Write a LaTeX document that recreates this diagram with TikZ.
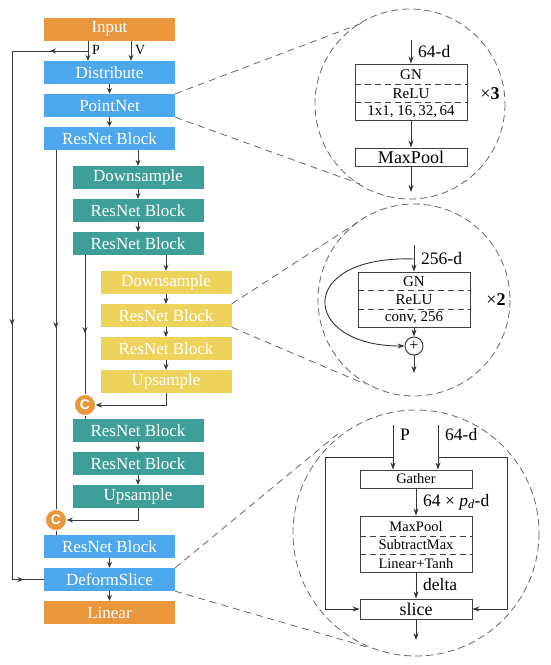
\documentclass[tikz,border=0pt]{standalone}
\usepackage{fontspec}
\setmainfont{Liberation Serif}
\setsansfont{Liberation Sans}
\usetikzlibrary{arrows.meta,decorations.markings}
\definecolor{corange}{HTML}{E9963C}
\definecolor{cblue}{HTML}{4DA7EC}
\definecolor{cteal}{HTML}{3E9E98}
\definecolor{cyellow}{HTML}{EDD35C}
\definecolor{cline}{HTML}{3A3A3A}
\definecolor{cdash}{HTML}{666666}
\tikzset{
  Stl/.tip={Stealth[length=6pt,width=5pt]},
  blk/.style={minimum width=131pt, minimum height=23pt, inner sep=0pt, text=white, font=\fontsize{17}{17}\selectfont},
  orangeb/.style={blk, fill=corange},
  blueb/.style={blk, fill=cblue},
  tealb/.style={blk, fill=cteal},
  yellowb/.style={blk, fill=cyellow},
  cnode/.style={circle, fill=corange, draw=white, line width=0.8pt, minimum size=21pt, inner sep=0pt, text=white, font=\sffamily\bfseries\fontsize{14}{14}\selectfont},
  link/.style={draw=cline, line width=0.8pt},
  arr/.style={link, -{Stl}},
  midarr/.style={link, postaction={decorate}, decoration={markings, mark=at position #1 with {\arrow{Stl}}}},
  zoomc/.style={draw=cdash, line width=0.8pt, dash pattern=on 7pt off 4pt},
  zoomline/.style={draw=cdash, line width=0.8pt, dash pattern=on 7pt off 5pt},
  dbox/.style={draw=black!75, line width=0.9pt, inner sep=0pt, minimum width=112pt},
  rowtxt/.style={inner sep=0pt, font=\fontsize{15}{15}\selectfont},
  bigtxt/.style={inner sep=0pt, font=\fontsize{18}{18}\selectfont},
  lbl/.style={inner sep=0pt, anchor=west, font=\fontsize{17.5}{17.5}\selectfont},
  darr/.style={draw=black!80, line width=0.9pt, -{Stealth[length=7pt,width=5pt]}},
  dline/.style={draw=black!80, line width=0.9pt},
  sepline/.style={draw=black!75, line width=0.8pt, dash pattern=on 6pt off 4pt}
}
\begin{document}
\begin{tikzpicture}[x=1pt,y=-1pt]
\useasboundingbox (0,0) rectangle (550,665);

% ---------- zoom circles ----------
\draw[zoomc] (410,104) circle (95);
\draw[zoomc] (414,300) circle (96);
\draw[zoomc] (416,533) circle (123);

% ---------- left column ----------
\node[orangeb] (Input) at (109.5,29) {Input};
\node[blueb] (Dist) at (109.5,72.5) {Distribute};
\node[blueb] (PN) at (109.5,105.5) {PointNet};
\node[blueb] (RB1) at (109.5,138.5) {ResNet Block};
\node[tealb] (D1) at (138,177.5) {Downsample};
\node[tealb] (R2) at (138,210.5) {ResNet Block};
\node[tealb] (R3) at (138,243.5) {ResNet Block};
\node[yellowb] (D2) at (166,282.5) {Downsample};
\node[yellowb] (R4) at (166,315.5) {ResNet Block};
\node[yellowb] (R5) at (166,348.5) {ResNet Block};
\node[yellowb] (U1) at (166,381.5) {Upsample};
\node[cnode] (C1) at (85,405) {C};
\node[tealb] (R6) at (138,430.5) {ResNet Block};
\node[tealb] (R7) at (138,463.5) {ResNet Block};
\node[tealb] (U2) at (138,496.5) {Upsample};
\node[cnode] (C2) at (56,520) {C};
\node[blueb] (R8) at (109.5,546.5) {ResNet Block};
\node[blueb] (DS) at (109.5,579.5) {DeformSlice};
\node[orangeb] (Lin) at (109.5,612.5) {Linear};

\draw[zoomline] (PN.north east) -- (365,22);
\draw[zoomline] (PN.south east) -- (360,184);
\draw[zoomline] (R4.north east) -- (358,222);
\draw[zoomline] (R4.south east) -- (365,384);
\draw[zoomline] (DS.north east) -- (340,432);
\draw[zoomline] (DS.south east) -- (367,647);

% P and V
\draw[arr] (88,0 |- Input.south) -- (88,0 |- Dist.north);
\draw[arr] (131,0 |- Input.south) -- (131,0 |- Dist.north);
\node[inner sep=0pt, anchor=west, font=\fontsize{14}{14}\selectfont] (Plbl) at (92,50) {P};
\node[inner sep=0pt, anchor=west, font=\fontsize{14}{14}\selectfont] (Vlbl) at (135,50) {V};

% outer loop P -> DeformSlice
\coordinate (ps) at (88,51);
\coordinate (pl) at (12,51);
\draw[link, postaction={decorate}, decoration={markings,
   mark=at position 38pt with {\arrow{Stl}},
   mark=at position 350pt with {\arrow{Stl}},
   mark=at position 616pt with {\arrow{Stl}}}]
   (ps) -- (pl) -- (12,0 |- DS.west) -- (DS.west);

% chain arrows
\draw[arr] (Dist) -- (PN);
\draw[arr] (PN) -- (RB1);
\draw[arr] (138,0 |- RB1.south) -- (D1.north);
\draw[arr] (D1) -- (R2);
\draw[arr] (R2) -- (R3);
\draw[arr] (166,0 |- R3.south) -- (D2.north);
\draw[arr] (D2) -- (R4);
\draw[arr] (R4) -- (R5);
\draw[arr] (R5) -- (U1);
\draw[arr] (R6) -- (R7);
\draw[arr] (R7) -- (U2);
\draw[arr] (R8) -- (DS);
\draw[arr] (DS) -- (Lin);

% skip connections
\draw[midarr=178pt] (56,0 |- RB1.south) -- (C2.north);
\draw[midarr=78pt] (85,0 |- R3.south) -- (C1.north);
\draw[arr] (U1.south) -- (166,405) -- (C1.east);
\draw[arr] (U2.south) -- (138,520) -- (C2.east);
\draw[link] (C1.south) -- (85,0 |- R6.north);
\draw[link] (C2.south) -- (56,0 |- R8.north);

% ---------- circle 1 : PointNet ----------
\node[dbox, minimum height=56pt] (pnb) at (411,92) {};
\draw[sepline] (pnb.west |- 0,84) -- (pnb.east |- 0,84);
\draw[sepline] (pnb.west |- 0,102) -- (pnb.east |- 0,102);
\node[rowtxt] (gn1) at (411,74.5) {GN};
\node[rowtxt] (re1) at (411,93.5) {ReLU};
\node[rowtxt] (cv1) at (411,111.5) {1x1, 16,\,32,\,64};
\coordinate (in1) at (411,40);
\draw[darr] (in1) -- (pnb.north);
\node[lbl] (d64a) at (418,52) {64-d};
\node[inner sep=0pt, font=\fontsize{18}{18}\selectfont] (x3) at (490,94) {×\textbf{3}};
\node[dbox, minimum height=18pt, font=\fontsize{18}{18}\selectfont] (mp1) at (411,157) {MaxPool};
\draw[darr] (pnb.south) -- (mp1.north);
\coordinate (out1) at (411,192);
\draw[darr] (mp1.south) -- (out1);

% ---------- circle 2 : ResNet block ----------
\node[dbox, minimum height=55pt] (rbb) at (414,299.5) {};
\draw[sepline] (rbb.west |- 0,290.5) -- (rbb.east |- 0,290.5);
\draw[sepline] (rbb.west |- 0,309) -- (rbb.east |- 0,309);
\node[rowtxt] (gn2) at (414,281.5) {GN};
\node[rowtxt] (re2) at (414,300) {ReLU};
\node[rowtxt] (cv2) at (414,318) {conv, 256};
\coordinate (in2) at (414,245);
\coordinate (br2) at (414,259);
\draw[darr] (in2) -- (rbb.north);
\node[lbl] (d256) at (421,259) {256-d};
\node[inner sep=0pt, font=\fontsize{18}{18}\selectfont] (x2) at (496,300) {×\textbf{2}};
\node[circle, draw=black!80, line width=0.9pt, minimum size=18pt, inner sep=0pt, font=\fontsize{16}{16}\selectfont] (plus) at (414,346) {+};
\draw[darr] (rbb.south) -- (plus.north);
\draw[darr] (br2) .. controls (295,255) and (300,346) .. (plus.west);
\coordinate (out2) at (414,373);
\draw[darr] (plus.south) -- (out2);

% ---------- circle 3 : DeformSlice ----------
\node[dbox, minimum height=18pt, font=\fontsize{14.5}{14.5}\selectfont] (gat) at (416,479) {Gather};
\node[dbox, minimum height=56pt] (mb) at (416,544) {};
\draw[sepline] (mb.west |- 0,536) -- (mb.east |- 0,536);
\draw[sepline] (mb.west |- 0,554) -- (mb.east |- 0,554);
\node[rowtxt, font=\fontsize{14.5}{14.5}\selectfont] (mp3) at (416,526.5) {MaxPool};
\node[rowtxt, font=\fontsize{14.5}{14.5}\selectfont] (sm3) at (416,545) {SubtractMax};
\node[rowtxt, font=\fontsize{14.5}{14.5}\selectfont] (lt3) at (416,563.5) {Linear+Tanh};
\node[dbox, minimum height=20pt, font=\fontsize{18}{18}\selectfont] (slc) at (416,609) {slice};

\coordinate (pin) at (393,425);
\coordinate (fin) at (438,425);
\draw[darr] (pin) -- (393,0 |- gat.north);
\draw[darr] (fin) -- (438,0 |- gat.north);
\node[lbl] (Plab) at (400,435) {P};
\node[lbl] (d64b) at (445,435) {64-d};
\draw[darr] (393,457) -- (325,457) -- (325,0 |- slc.west) -- (slc.west);
\draw[darr] (438,457) -- (507,457) -- (507,0 |- slc.east) -- (slc.east);
\draw[darr] (gat.south) -- (mb.north);
\node[lbl] (pd) at (423,502) {64 × \textit{p}\textsubscript{\textit{d}}-d};
\draw[darr] (mb.south) -- (slc.north);
\node[lbl] (dl) at (423,585) {delta};
\coordinate (out3) at (416,640);
\draw[darr] (slc.south) -- (out3);
\end{tikzpicture}
\end{document}
